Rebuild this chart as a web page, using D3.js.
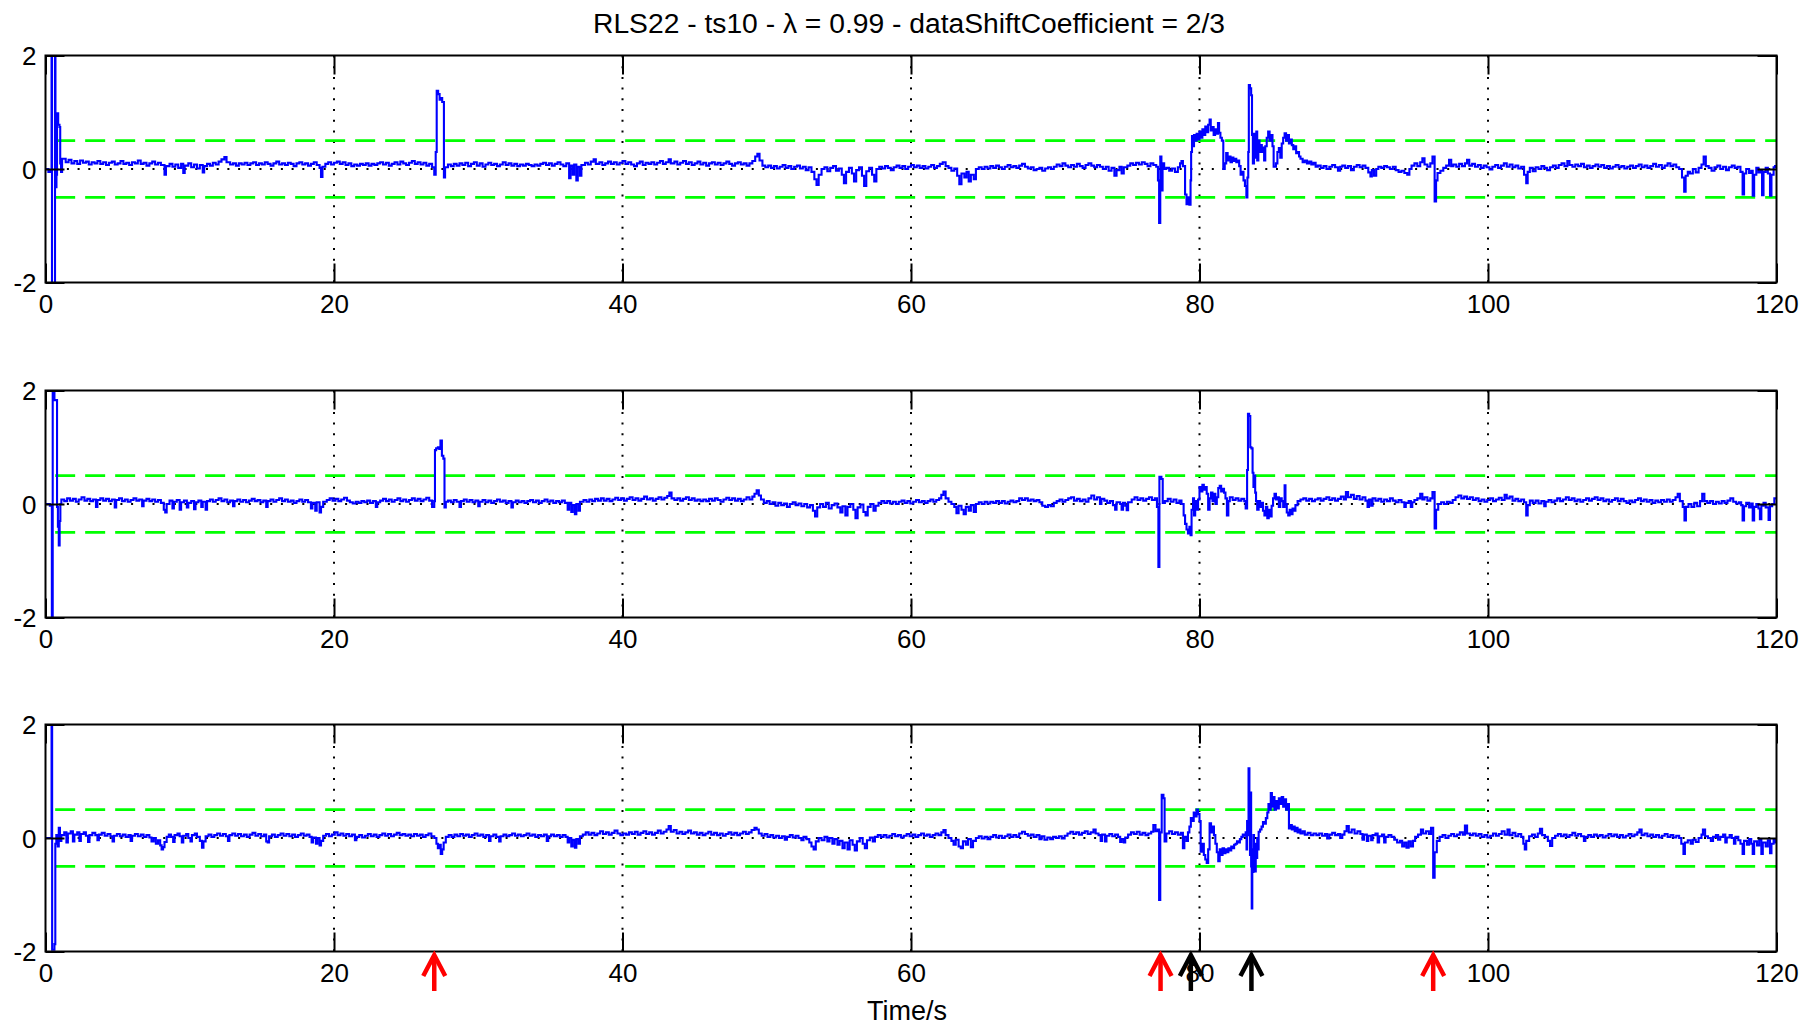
<!DOCTYPE html>
<html>
<head>
<meta charset="utf-8">
<script src="https://cdn.jsdelivr.net/npm/d3@7"></script>
<style>
html,body{margin:0;padding:0;background:#fff;}
svg{display:block;}
</style>
</head>
<body>
<svg id="chart" width="1811" height="1025"></svg>
<script>
// ---------------- DATA ----------------
const titleText = "RLS22 - ts10 - \u03BB = 0.99 - dataShiftCoefficient = 2/3";
const xLabel = "Time/s";
const xDomain = [0, 120];
const yDomain = [-2, 2];
const xTicks = [0, 20, 40, 60, 80, 100, 120];
const yTicks = [-2, 0, 2];
const yTickLabels = ["-2", "0", "2"];
const gridX = [20, 40, 60, 80, 100];
const gridY = [0];
const thresholds = [-0.5, 0.5];
const thresholdStart = 0.67;
const arrowsRed = [26.95, 77.3, 96.2];
const arrowsBlack = [79.4, 83.6];

// series: [time (s), value]
const series1 = [
[0,0],[0.2,-0.05],[0.35,-0.02],[0.42,2.6],[0.45,-2.6],[0.63,-2.6],[0.66,2.6],[0.69,-0.32],[0.76,-0.1],[0.8,0.98],[0.88,0.78],[0.97,0.74],[1.02,0.1],[1.08,-0.05],[1.15,0.18],
[1.4,.12],[1.6,.16],[1.8,.1],[2.0,.14],[2.2,.09],[2.4,.15],[2.6,.11],[2.8,.13],[3.0,.08],[3.2,.12],[3.4,.1],[3.6,.14],[3.8,.09],[4.0,.12],[4.2,.07],[4.4,.11],[4.6,.13],[4.8,.08],[5.0,.1],[5.2,.14],[5.4,.09],[5.6,.11],[5.8,.07],[6.0,.12],[6.2,.1],[6.4,.15],[6.6,.09],[6.8,.11],[7.0,.06],[7.2,.1],[7.4,.13],[7.6,.08],[7.8,.11],[8.0,.07],[8.25,-.1],[8.35,.05],[8.6,.09],[8.8,.04],[9.0,.08],[9.2,.02],[9.4,.09],[9.55,-.07],[9.65,.06],[9.9,.1],[10.1,.03],[10.3,.08],[10.5,.01],[10.7,.07],[10.9,-.06],[11.0,.05],[11.2,.09],[11.4,.06],[11.6,.11],[11.8,.08],[12.0,.13],[12.2,.17],[12.4,.21],[12.55,.12],[12.8,.08],[13.0,.1],[13.2,.06],[13.4,.1],[13.6,.08],[13.8,.11],[14.0,.07],[14.2,.1],[14.4,.12],[14.6,.07],[14.8,.1],[15.0,.08],[15.2,.12],[15.4,.09],[15.6,.06],[15.8,.1],[16.0,.13],[16.2,.08],[16.4,.1],[16.6,.07],[16.8,.11],[17.0,.09],[17.2,.05],[17.4,.1],[17.6,.12],[17.8,.08],[18.0,.1],[18.2,.06],[18.4,.09],[18.6,.12],[18.8,.07],[19.0,.02],[19.1,-.14],[19.2,.04],[19.4,.09],[19.6,.12],[19.8,.08],[20.0,.11],[20.2,.13],[20.4,.09],[20.6,.12],[20.8,.07],[21.0,.1],[21.2,.05],[21.4,.08],[21.6,.06],[21.8,.09],[22.0,.07],[22.2,.1],[22.4,.06],[22.6,.09],[22.8,.07],[23.0,.1],[23.2,.12],[23.4,.08],[23.6,.11],[23.8,.06],[24.0,.09],[24.2,.12],[24.4,.08],[24.6,.13],[24.8,.1],[25.0,.07],[25.2,.11],[25.4,.14],[25.6,.09],[25.8,.12],[26.0,.08],[26.2,.11],[26.4,.06],[26.6,.09],[26.8,.03],[26.95,-.1],
[27.05,.3],[27.12,1.38],[27.22,1.32],[27.32,1.22],[27.4,1.25],[27.5,1.18],[27.62,-.15],[27.7,.03],[27.9,.08],
[28.1,.05],[28.3,.09],[28.5,.06],[28.7,.1],[28.9,.07],[29.1,.11],[29.3,.05],[29.5,.09],[29.7,.12],[29.9,.06],[30.1,.1],[30.3,.04],[30.5,.08],[30.7,.11],[30.9,.07],[31.1,.09],[31.3,.05],[31.5,.08],[31.7,.12],[31.9,.07],[32.1,.1],[32.3,.06],[32.5,.09],[32.7,.05],[32.9,.08],[33.1,.06],[33.3,.09],[33.5,.07],[33.7,.05],[33.9,.08],[34.1,.06],[34.3,.09],[34.5,.11],[34.7,.07],[34.9,.1],[35.1,.06],[35.3,.09],[35.5,.12],[35.7,.08],[35.9,.05],[36.1,.1],[36.3,-.16],[36.4,.06],[36.55,-.1],[36.65,.08],[36.8,-.2],[36.9,.04],[37.05,-.12],[37.15,.07],[37.4,.11],[37.6,.08],[37.8,.13],[38.0,.17],[38.15,.09],[38.4,.12],[38.6,.07],[38.8,.1],[39.0,.13],[39.2,.09],[39.4,.12],[39.6,.08],[39.8,.11],[40.0,.14],[40.2,.09],[40.4,.12],[40.6,.08],[40.8,.05],[41.0,.1],[41.2,.13],[41.4,.07],[41.6,.11],[41.8,.09],[42.0,.12],[42.2,.08],[42.4,.11],[42.6,.14],[42.8,.09],[43.0,.12],[43.2,.17],[43.35,.1],[43.6,.13],[43.8,.08],[44.0,.11],[44.2,.14],[44.4,.09],[44.6,.12],[44.8,.07],[45.0,.1],[45.2,.13],[45.4,.08],[45.6,.11],[45.8,.06],[46.0,.1],[46.2,.12],[46.4,.08],[46.6,.11],[46.8,.07],[47.0,.1],[47.2,.13],[47.4,.09],[47.6,.06],[47.8,.1],[48.0,.12],[48.2,.08],
[48.4,.1],[48.6,.06],[48.8,.1],[49.0,.14],[49.2,.22],[49.35,.27],[49.5,.15],[49.7,.06],[49.9,.03],[50.1,.06],[50.3,.02],[50.5,.05],[50.7,.01],[50.9,.04],[51.1,.07],[51.3,.02],[51.5,.05],[51.7,.0],[51.9,.04],[52.1,.06],[52.3,.01],[52.5,.04],[52.7,-.02],[52.9,.03],[53.1,-.05],[53.3,-.18],[53.45,-.28],[53.6,-.1],[53.8,.0],[54.0,.03],[54.2,-.04],[54.4,.02],[54.6,.05],[54.8,-.03],[55.0,.01],[55.2,-.1],[55.35,-.25],[55.5,-.05],[55.7,.02],[55.9,-.08],[56.05,-.22],[56.2,-.02],[56.4,.03],[56.6,-.12],[56.75,-.3],[56.9,-.04],[57.1,.02],[57.3,-.1],[57.45,-.22],[57.6,.0],[57.8,.04],[58.0,.01],[58.2,.05],[58.4,.02],[58.6,-.02],[58.8,.03],[59.0,.06],[59.2,.02],[59.4,.05],[59.6,.0],[59.8,.04],[60.0,.07],[60.2,.03],[60.4,.06],[60.6,.02],[60.8,.05],[61.0,.01],[61.2,.04],[61.4,.07],[61.6,.02],[61.8,.05],[62.0,.09],[62.2,.12],[62.4,.05],[62.6,.02],[62.8,-.03],[63.0,.01],[63.2,-.12],[63.35,-.27],[63.5,-.08],[63.7,-.15],[63.85,-.05],[64.0,-.22],[64.15,-.1],[64.35,-.18],[64.5,.0],[64.7,.03],[64.9,.0],[65.1,.04],[65.3,.01],[65.5,.05],[65.7,.02],[65.9,.06],[66.1,.03],[66.3,.0],[66.5,.04],[66.7,.07],[66.9,.03],
[67.1,.05],[67.3,.02],[67.5,.06],[67.7,.09],[67.9,.04],[68.1,.01],[68.3,.03],[68.5,-.02],[68.7,.0],[68.9,.02],[69.1,-.03],[69.3,.01],[69.5,.03],[69.7,.0],[69.9,.04],[70.1,.08],[70.3,.05],[70.5,.1],[70.7,.06],[70.9,.03],[71.1,.07],[71.3,.04],[71.5,.09],[71.7,.05],[71.9,.02],[72.1,.07],[72.3,.1],[72.5,.06],[72.7,.03],[72.9,.07],[73.1,.04],[73.3,.0],[73.5,.04],[73.7,-.03],[73.9,.02],[74.1,-.12],[74.25,-.02],[74.45,.04],[74.6,-.08],[74.75,.03],[75.0,.06],[75.2,.1],[75.4,.07],[75.6,.11],[75.8,.08],[76.0,.12],[76.2,.09],[76.4,.05],[76.6,.1],[76.8,.07],[77.0,.04],
[77.12,-.2],[77.2,-.95],[77.28,.22],[77.36,-.38],[77.44,.1],[77.55,.0],[77.7,.02],[77.9,-.03],[78.1,.01],[78.3,-.05],[78.5,.03],[78.65,.1],[78.75,.14],[78.85,.05],
[79.0,-.45],[79.1,-.62],[79.2,-.5],[79.3,-.63],[79.38,-.2],[79.42,.3],[79.48,.58],[79.55,.4],[79.62,.6],
[79.7,.5],[79.8,.62],[79.9,.52],[80.0,.66],[80.1,.55],[80.2,.7],[80.3,.6],[80.4,.75],[80.5,.65],[80.6,.78],[80.7,.87],[80.78,.68],[80.88,.74],[80.98,.6],[81.08,.7],[81.18,.62],[81.28,.81],[81.36,.64],[81.45,.55],[81.55,.5],
[81.65,.0],[81.75,.1],[81.85,.28],[81.95,.15],[82.05,.22],[82.15,.12],[82.25,.2],[82.35,.14],[82.45,.18],[82.55,.12],[82.65,.15],
[82.75,.05],[82.85,-.1],[82.95,-.05],[83.05,-.2],[83.15,-.3],[83.25,-.5],[83.32,-.15],
[83.38,.3],[83.42,1.48],[83.5,1.42],[83.58,1.3],[83.64,.6],
[83.7,.1],[83.78,.62],[83.86,.2],[83.94,.66],[84.0,.15],[84.08,.5],[84.16,.3],[84.24,.42],[84.32,.3],[84.4,.38],[84.48,.15],[84.56,.4],[84.66,.55],[84.76,.66],[84.86,.5],[84.96,.6],[85.06,.4],[85.14,.04],[85.3,.1],[85.4,.3],[85.5,.37],[85.6,.2],[85.7,.45],[85.8,.55],[85.9,.63],[86.0,.5],[86.1,.6],[86.2,.45],[86.3,.52],[86.4,.42],[86.5,.35],[86.6,.4],[86.7,.28],[86.8,.3],[86.9,.22],[87.0,.18],[87.15,.12],[87.3,.15],[87.45,.1],[87.6,.13],[87.75,.08],[87.9,.11],[88.05,.04],
[88.2,.06],[88.4,.02],[88.6,.05],[88.8,.0],[89.0,.04],[89.2,.07],[89.4,.03],[89.6,-.03],[89.75,.04],[89.9,.06],[90.1,.02],[90.3,.05],[90.5,-.02],[90.7,.04],[90.9,.07],[91.1,.03],[91.3,.06],[91.5,.02],[91.7,-.06],[91.85,-.13],[91.95,-.02],[92.1,-.12],[92.25,.0],[92.4,.04],[92.6,.02],[92.8,.05],[93.0,.03],[93.2,.0],[93.4,.04],[93.6,-.02],[93.8,-.05],[94.0,-.03],[94.2,-.07],[94.4,-.1],[94.55,.0],[94.7,.06],[94.9,.1],[95.1,.05],[95.3,.12],[95.45,.19],[95.6,.08],[95.8,.04],[96.0,.1],[96.15,.22],[96.3,-.57],[96.4,-.2],[96.5,-.07],[96.7,-.03],[96.9,.02],[97.1,.06],[97.3,.16],[97.45,.05],[97.6,.08],[97.8,.04],[98.0,.09],[98.2,.05],[98.4,.1],[98.55,.16],[98.7,.06],[98.9,.09],[99.1,.04],[99.3,.07],[99.5,.02],[99.7,.06],[99.9,.03],[100.1,-.01],[100.3,.04],[100.5,.07],[100.7,.02],[100.9,.06],[101.1,.1],[101.3,.04],[101.5,.08],[101.7,.03],[101.9,.06],[102.1,.01],[102.3,.04],[102.5,-.1],[102.65,-.25],[102.75,-.05],[102.9,.02],[103.1,-.04],[103.3,.03],[103.5,.0],[103.7,.05],[103.9,.02],[104.1,-.02],[104.3,.03],[104.5,.06],[104.7,.02],[104.9,.07],[105.1,.1],[105.3,.05],[105.5,.14],[105.65,.07],[105.85,.04],[106.05,.08],[106.25,.05],[106.45,.09],[106.65,.03],[106.85,.06],[107.05,.02],[107.25,.05],[107.45,.08],[107.65,.04],[107.85,.07],[108.05,.02],[108.25,.05],[108.45,.01],[108.65,.04],[108.85,.07],[109.05,.03],[109.25,.05],[109.45,.01],[109.65,.04],[109.85,.06],[110.05,.02],[110.25,.05],[110.45,.08],[110.65,.03],[110.85,.06],[111.05,.02],[111.25,.05],[111.45,.09],[111.65,.04],[111.85,.07],[112.05,.02],[112.25,.06],[112.45,.1],[112.65,.05],[112.85,.08],[113.05,.03],[113.25,.0],[113.45,-.15],[113.6,-.4],[113.7,-.12],[113.85,-.05],[114.0,-.08],[114.2,.0],[114.4,-.06],[114.6,.02],[114.8,.08],[114.95,.22],[115.1,.05],[115.3,.02],[115.5,-.03],[115.7,.03],[115.9,.06],[116.1,.0],[116.3,.04],[116.5,-.02],[116.7,.03],[116.9,.06],[117.1,.02],[117.3,.04],[117.5,-.05],[117.65,-.45],[117.75,-.08],[117.9,.0],[118.1,-.07],[118.25,-.03],[118.35,-.47],[118.45,-.1],[118.6,.02],[118.75,-.06],[118.9,-.02],[119.0,-.46],[119.1,-.05],[119.25,.02],[119.4,-.08],[119.55,-.47],[119.65,-.1],[119.8,.03],[119.9,.05],[120,.04]
];

const series2 = [
[0,0],[0.3,-0.03],[0.44,-2.6],[0.5,1.98],[0.62,1.83],[0.8,-0.05],[0.86,-0.4],[0.92,-0.73],[0.98,-0.3],[1.03,0.0],
[1.1,.08],[1.3,.05],[1.5,.1],[1.7,.06],[1.9,.09],[2.1,.04],[2.3,.08],[2.5,.12],[2.7,.06],[2.9,.09],[3.1,.05],[3.3,.08],[3.5,-.05],[3.6,.07],[3.8,.1],[4.0,.06],[4.2,.09],[4.4,.05],[4.6,.08],[4.8,-.06],[4.9,.07],[5.1,.1],[5.3,.05],[5.5,.08],[5.7,.04],[5.9,.07],[6.1,.1],[6.3,.06],[6.5,.08],[6.7,-.04],[6.8,.06],[7.0,.09],[7.2,.05],[7.4,.08],[7.6,.04],[7.8,.07],[8.0,.02],[8.2,-.1],[8.3,-.15],[8.4,.0],[8.6,.06],[8.8,-.08],[8.9,.04],[9.1,.07],[9.3,-.1],[9.4,.03],[9.6,.06],[9.8,-.06],[9.9,.02],[10.1,.05],[10.3,-.09],[10.4,.03],[10.6,.06],[10.8,-.05],[10.9,.04],[11.1,-.1],[11.2,.05],[11.4,.08],[11.6,.04],[11.8,.07],[12.0,.1],[12.2,.05],[12.4,.08],[12.6,.03],[12.8,.06],[13.0,-.04],[13.1,.05],[13.3,.08],[13.5,.04],[13.7,.07],[13.9,.03],[14.1,.06],[14.3,.09],[14.5,.05],[14.7,.07],[14.9,.03],[15.1,.06],[15.3,-.05],[15.4,.05],[15.6,.08],[15.8,.04],[16.0,.07],[16.2,.1],[16.4,.05],[16.6,.08],[16.8,.04],[17.0,.06],[17.2,.02],[17.4,.05],[17.6,.08],[17.8,.04],[18.0,.07],[18.2,.03],[18.4,-.08],[18.5,.02],[18.7,-.12],[18.8,.03],[19.0,-.15],[19.1,-.05],[19.25,.04],[19.5,.07],[19.7,.1],[19.9,.06],[20.1,.09],[20.3,.05],[20.5,.08],[20.7,.11],[20.9,.06],[21.1,.03],[21.3,.01],[21.5,.04],[21.7,.02],[21.9,.05],[22.1,.03],[22.3,.06],[22.5,.02],[22.7,.05],[22.9,-.05],[23.0,.03],[23.2,.06],[23.4,.09],[23.6,.05],[23.8,.08],[24.0,.04],[24.2,.07],[24.4,.1],[24.6,.05],[24.8,.08],[25.0,.04],[25.2,.07],[25.4,.1],[25.6,.06],[25.8,.09],[26.0,.05],[26.2,.08],[26.4,.11],[26.6,.06],[26.8,-.05],[26.95,.05],
[27.0,.95],[27.08,.98],[27.2,1.0],[27.3,.97],[27.38,1.12],[27.48,.85],[27.58,.8],[27.66,-.06],[27.75,.04],
[27.9,.06],[28.1,.03],[28.3,.07],[28.5,.04],[28.7,-.05],[28.8,.05],[29.0,.08],[29.2,.04],[29.4,.07],[29.6,.03],[29.8,.06],[30.0,-.04],[30.1,.04],[30.3,.07],[30.5,.03],[30.7,.06],[30.9,.02],[31.1,.05],[31.3,.08],[31.5,.04],[31.7,.06],[31.9,.02],[32.1,.05],[32.3,-.06],[32.4,.03],[32.6,.06],[32.8,.03],[33.0,.05],[33.2,.02],[33.4,.05],[33.6,.07],[33.8,.03],[34.0,.06],[34.2,.02],[34.4,.05],[34.6,.08],[34.8,.04],[35.0,.06],[35.2,.02],[35.4,.05],[35.6,.03],[35.8,.06],[36.0,.02],[36.2,-.1],[36.3,.02],[36.45,-.14],[36.55,-.02],[36.7,-.18],[36.8,.0],[36.95,-.12],[37.05,.04],[37.3,.07],[37.5,.04],[37.7,.08],[37.9,.05],[38.1,.09],[38.3,.06],[38.5,.1],[38.7,.06],[38.9,.09],[39.1,.05],[39.3,.08],[39.5,.11],[39.7,.07],[39.9,.1],[40.1,.06],[40.3,.09],[40.5,.12],[40.7,.07],[40.9,.1],[41.1,.06],[41.3,.09],[41.5,.13],[41.7,.08],[41.9,.1],[42.1,.06],[42.3,.09],[42.5,.12],[42.7,.08],[42.9,.11],[43.1,.14],[43.25,.2],[43.4,.1],[43.6,.07],[43.8,.1],[44.0,.06],[44.2,.09],[44.4,.12],[44.6,.07],[44.8,.1],[45.0,.06],[45.2,.08],[45.4,.05],
[45.6,.08],[45.8,.05],[46.0,.09],[46.2,.06],[46.4,.1],[46.6,.07],[46.8,.04],[47.0,.08],[47.2,.11],[47.4,.07],[47.6,.1],[47.8,.06],[48.0,.09],[48.2,.05],[48.4,.08],[48.6,.12],[48.8,.08],[49.0,.13],[49.15,.18],[49.3,.24],[49.45,.15],[49.6,.08],[49.8,.02],[50.0,.05],[50.2,.0],[50.4,.03],[50.6,-.03],[50.8,.02],[51.0,-.02],[51.2,.01],[51.4,-.05],[51.6,.0],[51.8,.03],[52.0,-.02],[52.2,.01],[52.4,-.04],[52.6,.0],[52.8,-.06],[53.0,-.02],[53.2,-.12],[53.35,-.22],[53.5,-.06],[53.7,.0],[53.9,-.05],[54.1,.02],[54.3,-.08],[54.5,-.02],[54.7,.01],[54.9,-.06],[55.1,-.15],[55.25,-.04],[55.45,-.2],[55.6,-.05],[55.8,.0],[56.0,-.1],[56.15,-.25],[56.3,-.06],[56.5,-.01],[56.7,-.14],[56.85,-.2],[57.0,-.05],[57.2,.0],[57.4,-.12],[57.55,-.03],[57.75,.02],[57.95,.05],[58.15,.02],[58.35,.05],[58.55,.01],[58.75,.04],[58.95,.0],[59.15,.04],[59.35,.06],[59.55,.02],[59.75,.05],[59.95,.01],[60.15,.04],[60.35,.07],[60.55,.03],[60.75,.05],[60.95,.02],[61.15,.05],[61.35,.08],[61.55,.04],[61.75,.07],[61.95,.1],[62.1,.16],[62.25,.22],[62.4,.1],[62.6,.04],[62.8,.0],[63.0,-.05],[63.15,-.16],[63.3,-.03],[63.5,-.1],[63.65,-.18],[63.8,-.05],[64.0,-.12],[64.15,-.02],[64.35,-.14],[64.5,.0],[64.7,.03],[64.9,.0],[65.1,.04],[65.3,.01],[65.5,.04],[65.7,.02],[65.9,.05],[66.1,.02],[66.3,.05],[66.5,.01],[66.7,.04],[66.9,.06],[67.1,.03],[67.3,.05],
[67.5,.1],[67.7,.07],[67.9,.1],[68.1,.06],[68.3,.08],[68.5,.05],[68.7,.07],[68.9,.03],[69.1,-.03],[69.3,-.05],[69.5,-.02],[69.7,-.04],[69.9,.02],[70.1,.05],[70.3,.08],[70.5,.04],[70.7,.07],[70.9,.1],[71.1,.12],[71.3,.06],[71.5,.09],[71.7,.05],[71.9,.08],[72.1,.04],[72.3,.1],[72.5,.15],[72.7,.08],[72.9,.12],[73.1,.0],[73.2,.09],[73.4,.06],[73.6,.02],[73.8,.05],[74.0,-.02],[74.15,-.1],[74.25,.03],[74.5,.0],[74.6,-.1],[74.7,.02],[74.85,-.03],[74.95,-.11],[75.05,.03],[75.3,.08],[75.5,.12],[75.7,.07],[75.9,.1],[76.1,.06],[76.3,.09],[76.5,.12],[76.7,.07],[76.9,.1],
[77.05,-.05],[77.15,-1.11],[77.22,.48],[77.36,.44],[77.45,.02],[77.6,.05],[77.8,.09],[78.0,.04],[78.2,.08],[78.4,.02],[78.6,.06],[78.75,.0],
[78.9,-.2],[79.0,-.35],[79.1,-.45],[79.2,-.52],[79.3,-.4],[79.38,-.55],[79.45,-.1],[79.55,.1],[79.62,-.2],[79.7,.05],[79.8,-.1],[79.9,.08],
[80.0,.3],[80.1,.22],[80.2,.34],[80.3,.25],[80.4,.3],[80.5,.18],[80.6,-.1],[80.7,.1],[80.8,.2],[80.9,.05],[81.0,.18],[81.1,.0],[81.2,.12],[81.3,.28],[81.4,.32],[81.5,.22],[81.6,.27],[81.7,.2],[81.8,.1],[81.9,-.2],[82.0,.05],[82.1,.12],[82.3,.07],[82.5,.1],[82.7,.06],[82.9,.09],[83.1,.05],[83.2,-.08],
[83.3,.6],[83.36,1.59],[83.44,1.55],[83.52,1.0],[83.6,.98],[83.68,.55],[83.74,.3],[83.8,.5],[83.86,.2],
[83.92,.05],[84.0,-.1],[84.1,.05],[84.2,-.05],[84.3,.02],[84.4,-.12],[84.5,-.2],[84.6,-.05],[84.7,-.25],[84.8,-.1],[84.9,-.22],[85.0,-.03],[85.1,.1],[85.2,.18],[85.3,.08],[85.4,.12],[85.5,-.05],[85.6,.1],[85.7,.05],[85.8,-.05],[85.9,.33],[85.96,.0],[86.05,-.15],[86.15,-.2],[86.25,-.1],[86.35,-.18],[86.45,-.08],[86.55,-.12],[86.65,-.02],[86.8,.05],[87.0,.08],[87.2,.1],[87.4,.06],[87.6,.09],[87.8,.05],[88.0,.08],
[88.2,.1],[88.4,.06],[88.6,.09],[88.8,.12],[89.0,.07],[89.2,.1],[89.4,.06],[89.6,.09],[89.8,.13],[90.0,.08],[90.15,.21],[90.3,.12],[90.5,.16],[90.7,.09],[90.9,.14],[91.1,.08],[91.3,.12],[91.5,.06],[91.65,-.05],[91.75,.08],[91.9,-.03],[92.0,.1],[92.2,.06],[92.4,.09],[92.6,.04],[92.8,.08],[93.0,.05],[93.2,.1],[93.4,.06],[93.6,.03],[93.8,.07],[94.0,.03],[94.2,-.05],[94.3,.02],[94.5,.05],[94.65,-.05],[94.75,.03],[94.9,.07],[95.1,.1],[95.3,.18],[95.45,.08],[95.6,.12],[95.8,.06],[96.0,.1],[96.15,.21],[96.3,-.43],[96.4,-.1],[96.55,.0],[96.75,.03],[96.95,.0],[97.15,.04],[97.35,.02],[97.55,.07],[97.75,.12],[97.95,.15],[98.15,.1],[98.35,.13],[98.55,.09],[98.75,.12],[98.95,.07],[99.15,.1],[99.35,.05],[99.55,.08],[99.75,.04],[99.95,.07],[100.15,.1],[100.35,.05],[100.55,.08],[100.75,.11],[100.95,.07],[101.15,.16],[101.3,.1],[101.5,.13],[101.7,.06],[101.9,.09],[102.1,.05],[102.3,.08],[102.5,.03],[102.65,-.2],[102.75,-.02],[102.9,.06],[103.1,.02],[103.3,.06],[103.5,.01],[103.7,.05],[103.9,-.04],[104.0,.04],[104.2,.07],[104.4,.03],[104.6,.06],[104.8,.1],[105.0,.05],[105.2,.08],[105.4,.12],[105.6,.07],[105.8,.1],[106.0,.05],[106.2,.08],[106.4,.04],[106.6,.07],[106.8,.1],[107.0,.06],[107.2,.09],[107.4,.12],[107.6,.07],[107.8,.1],[108.0,.05],[108.2,.08],[108.4,.04],[108.6,.07],[108.8,.1],[109.0,.05],[109.2,.09],[109.4,.05],[109.6,.02],[109.8,.06],[110.0,.03],[110.2,.07],[110.4,.1],[110.6,.05],[110.8,.08],[111.0,.04],[111.2,.07],[111.4,.02],[111.6,.06],[111.8,.03],[112.0,.07],[112.2,.04],[112.4,.08],[112.6,.04],[112.8,.07],[113.0,.12],[113.15,.18],[113.3,.05],[113.5,-.05],[113.62,-.29],[113.72,-.05],[113.9,.0],[114.1,-.05],[114.3,.02],[114.5,-.04],[114.7,.05],[114.85,.18],[115.0,.05],[115.2,.02],[115.4,.05],[115.6,.0],[115.8,.04],[116.0,.01],[116.2,.05],[116.4,.02],[116.6,.06],[116.8,.1],[117.0,.04],[117.2,.01],[117.4,.03],[117.55,-.02],[117.65,-.29],[117.75,-.04],[117.9,.02],[118.1,-.06],[118.25,.01],[118.35,-.29],[118.45,-.05],[118.6,.0],[118.75,-.08],[118.85,-.27],[118.95,-.03],[119.1,.02],[119.25,-.06],[119.45,-.28],[119.55,-.04],[119.7,.0],[119.85,.1],[120,.08]
];

const series3 = [
[0,0],[0.3,0.0],[0.42,2.6],[0.46,-1.97],[0.62,-1.87],[0.68,-0.1],[0.75,0.05],[0.85,-0.15],[0.92,0.18],[1.0,-0.05],
[1.1,.05],[1.3,.1],[1.45,-.08],[1.55,.08],[1.75,.12],[1.9,-.06],[2.0,.06],[2.2,.1],[2.35,-.05],[2.45,.07],[2.65,.1],[2.8,.04],[2.95,-.07],[3.05,.05],[3.25,.09],[3.45,.05],[3.6,-.04],[3.7,.06],[3.9,.09],[4.1,.04],[4.3,.07],[4.5,.03],[4.65,-.06],[4.75,.04],[4.95,.07],[5.15,.03],[5.35,.06],[5.55,.02],[5.75,.05],[5.9,-.05],[6.0,.04],[6.2,.07],[6.4,.03],[6.6,.06],[6.8,.02],[7.0,.05],[7.2,.01],[7.35,-.06],[7.5,.0],[7.65,-.1],[7.8,-.04],[7.95,-.13],[8.05,-.2],[8.15,-.16],[8.25,-.07],[8.4,.02],[8.55,.06],[8.7,.02],[8.85,-.07],[8.95,.05],[9.15,.08],[9.3,.03],[9.45,-.08],[9.55,.04],[9.75,.07],[9.9,.0],[10.05,-.06],[10.15,.05],[10.35,.08],[10.5,.02],[10.7,-.05],[10.85,-.17],[10.95,-.06],[11.1,.03],[11.3,.06],[11.5,.02],[11.7,.05],[11.9,.08],[12.1,.04],[12.3,.07],[12.5,.03],[12.65,-.05],[12.75,.05],[12.95,.08],[13.15,.04],[13.35,.07],[13.55,.03],[13.75,.06],[13.95,.02],[14.15,.06],[14.35,.09],[14.55,.04],[14.75,.07],[14.95,.03],[15.15,.06],[15.3,-.06],[15.4,-.08],[15.5,.03],[15.7,.06],[15.9,.02],[16.1,.05],[16.3,.08],[16.5,.04],[16.7,.07],[16.9,.03],[17.1,.06],[17.3,.02],[17.5,.05],[17.7,.08],[17.9,.04],[18.1,.06],[18.3,.02],[18.45,-.08],[18.55,.01],[18.75,-.1],[18.85,.0],[19.0,-.13],[19.1,-.05],[19.25,.04],[19.45,.07],[19.65,.03],[19.85,.06],[20.05,.1],[20.25,.05],[20.45,.08],[20.65,.04],[20.85,.07],[21.05,.03],[21.25,.06],[21.45,-.04],[21.55,.02],[21.75,.05],[21.95,.01],[22.15,.04],[22.35,.07],[22.55,.03],[22.75,.06],[22.95,.02],[23.15,.05],[23.35,.08],[23.55,.04],[23.75,.07],[23.95,.03],[24.15,.06],[24.35,.09],[24.55,.05],[24.75,.07],[24.95,.04],[25.15,.06],[25.35,.03],[25.55,.07],[25.75,.04],[25.95,.06],[26.15,.02],[26.35,.05],[26.55,.08],[26.75,.03],[26.95,.0],[27.1,-.1],[27.2,-.18],[27.3,-.12],[27.4,-.28],[27.5,-.2],[27.6,-.08],[27.75,.02],[27.95,.05],[28.15,.02],[28.35,.06],[28.55,.03],[28.75,.07],[28.95,.04],[29.15,.06],[29.35,.02],[29.55,.05],[29.75,.08],[29.95,.04],[30.15,.06],[30.35,.02],[30.55,.05],[30.75,-.05],[30.85,.03],[31.05,.06],[31.25,.02],[31.45,-.06],[31.55,.03],[31.75,.06],[31.95,.03],[32.15,.05],[32.35,.08],[32.55,.04],[32.75,.06],[32.95,.03],[33.15,.05],[33.35,.08],[33.55,.04],[33.75,.06],[33.95,.02],[34.15,.05],[34.35,.03],[34.55,.06],[34.75,-.05],[34.85,.03],[35.05,.06],[35.25,.03],[35.45,.05],[35.65,.02],[35.85,.05],[36.05,.02],[36.2,-.08],[36.3,.0],[36.45,-.15],[36.55,-.03],[36.7,-.17],[36.8,-.02],[36.95,-.1],[37.05,.03],[37.25,.06],[37.45,.1],[37.65,.06],[37.85,.09],[38.05,.05],[38.25,.08],[38.45,.12],[38.65,.07],[38.85,.1],[39.05,.06],[39.25,.09],[39.45,.13],[39.65,.08],[39.85,.05],[40.05,.08],[40.25,.06],[40.45,.1],[40.65,.07],[40.85,.11],[41.05,.06],[41.25,.09],[41.45,.12],[41.65,.07],[41.85,.1],[42.05,.06],[42.25,.09],[42.45,.13],[42.65,.08],[42.85,.11],[43.05,.15],[43.2,.21],[43.35,.11],[43.55,.14],[43.75,.08],[43.95,.11],[44.15,.07],[44.35,.1],[44.55,.13],[44.75,.08],[44.95,.1],[45.15,.06],
[45.35,.09],[45.55,.05],[45.75,.08],[45.95,.11],[46.15,.06],[46.35,.09],[46.55,.05],[46.75,.08],[46.95,.04],[47.15,.07],[47.35,.1],[47.55,.06],[47.75,.09],[47.95,.05],[48.15,.08],[48.35,.11],[48.55,.07],[48.75,.1],[48.95,.14],[49.15,.18],[49.3,.15],[49.45,.08],[49.65,.04],[49.85,.07],[50.05,.02],[50.25,.05],[50.45,.01],[50.65,.04],[50.85,.0],[51.05,.03],[51.25,-.03],[51.4,.02],[51.6,.05],[51.8,.01],[52.0,.04],[52.2,.0],[52.4,-.04],[52.55,.02],[52.75,-.02],[52.95,-.08],[53.1,-.15],[53.25,-.2],[53.4,-.06],[53.6,.0],[53.8,-.04],[54.0,.02],[54.2,-.06],[54.35,.0],[54.55,-.1],[54.7,-.02],[54.9,-.12],[55.05,-.05],[55.25,-.18],[55.4,-.08],[55.6,-.2],[55.75,-.04],[55.95,-.12],[56.1,-.22],[56.25,-.06],[56.45,.0],[56.65,-.1],[56.8,-.18],[56.95,-.04],[57.15,.01],[57.35,-.06],[57.5,.02],[57.7,.05],[57.9,.02],[58.1,.05],[58.3,.01],[58.5,.04],[58.7,.07],[58.9,.03],[59.1,.05],[59.3,.01],[59.5,.04],[59.7,.07],[59.9,.03],[60.1,.06],[60.3,.02],[60.5,.05],[60.7,.08],[60.9,.04],[61.1,.06],[61.3,.02],[61.5,.05],[61.7,.08],[61.9,.05],[62.1,.1],[62.25,.14],[62.4,.05],[62.6,.0],[62.8,-.05],[62.95,-.12],[63.1,-.03],[63.3,-.15],[63.45,-.18],[63.6,-.06],[63.8,-.12],[63.95,-.02],[64.15,-.16],[64.3,-.05],[64.5,.0],[64.7,.03],[64.9,-.01],[65.1,.02],[65.3,-.02],[65.5,.02],[65.7,.05],[65.9,.01],[66.1,.04],[66.3,.0],[66.5,.03],[66.7,.06],[66.9,.02],[67.1,.05],[67.3,.02],
[67.5,.08],[67.7,.11],[67.9,.07],[68.1,.04],[68.3,.06],[68.5,.02],[68.7,.05],[68.9,-.02],[69.05,.03],[69.25,-.03],[69.45,.01],[69.65,-.02],[69.85,.02],[70.05,.0],[70.25,.03],[70.45,-.01],[70.65,.04],[70.85,.08],[71.05,.11],[71.25,.07],[71.45,.1],[71.65,.06],[71.85,.09],[72.05,.12],[72.25,.07],[72.45,.1],[72.65,.15],[72.8,.08],[73.0,.05],[73.15,-.05],[73.25,.06],[73.45,-.06],[73.55,.04],[73.75,.07],[73.95,.03],[74.15,.06],[74.35,.02],[74.5,-.07],[74.6,-.02],[74.75,-.08],[74.85,.01],[75.05,.06],[75.25,.1],[75.45,.07],[75.65,.11],[75.85,.06],[76.05,.09],[76.25,.05],[76.45,.08],[76.65,.11],[76.8,.23],[76.95,.12],[77.1,.15],[77.2,-1.09],[77.28,.1],[77.38,.76],[77.5,.7],[77.58,-.06],[77.7,.08],[77.9,.12],[78.1,.07],[78.3,.1],[78.5,.06],[78.7,.09],[78.85,-.18],[78.95,.02],[79.1,-.05],[79.2,.1],[79.3,.2],[79.4,.35],[79.5,.3],[79.6,.45],[79.7,.38],[79.8,.5],[79.9,.42],[80.0,.3],[80.08,-.24],[80.2,-.1],[80.3,-.3],[80.4,-.38],[80.5,-.44],[80.6,-.2],[80.7,.26],[80.8,.1],[80.9,.2],[81.0,.05],[81.1,-.1],[81.2,-.25],[81.3,-.41],[81.4,-.2],[81.5,-.3],[81.6,-.18],[81.7,-.27],[81.8,-.2],[81.9,-.25],[82.0,-.18],[82.1,-.22],[82.2,-.15],[82.3,-.18],[82.4,-.12],[82.5,-.1],[82.6,-.06],[82.7,-.08],[82.8,-.02],[82.9,.02],[83.0,.06],[83.1,.04],[83.2,.1],[83.26,-.2],[83.3,.3],[83.36,.05],[83.4,1.23],[83.46,.6],[83.5,-.3],[83.54,.8],[83.58,-.5],[83.62,-1.24],[83.66,-.2],[83.7,-.6],[83.74,.05],[83.78,-.45],[83.82,-.1],[83.86,-.59],[83.9,-.12],[83.95,-.35],[84.0,.0],[84.05,-.2],[84.1,.11],[84.2,.15],[84.3,.2],[84.4,.28],[84.5,.25],[84.6,.35],[84.7,.45],[84.78,.6],[84.86,.5],[84.94,.79],[85.02,.55],[85.1,.72],[85.2,.5],[85.3,.65],[85.4,.52],[85.5,.7],[85.6,.6],[85.7,.72],[85.8,.55],[85.9,.68],[86.0,.5],[86.1,.6],[86.2,.17],[86.3,.23],[86.4,.15],[86.5,.2],[86.6,.12],[86.7,.18],[86.8,.1],[86.9,.15],[87.0,.08],[87.15,.12],[87.3,.06],[87.5,.09],[87.7,.05],[87.9,.08],
[88.1,.05],[88.3,.08],[88.5,.04],[88.7,.07],[88.85,-.01],[89.0,.06],[89.2,.09],[89.4,.05],[89.6,.07],[89.75,.0],[89.9,.06],[90.05,.12],[90.2,.21],[90.35,.1],[90.55,.15],[90.75,.08],[90.95,.12],[91.15,.07],[91.3,-.03],[91.4,.06],[91.6,-.05],[91.7,.04],[91.9,-.04],[92.0,.05],[92.2,.08],[92.35,-.08],[92.45,.03],[92.65,.06],[92.8,-.08],[92.9,.02],[93.1,.05],[93.3,.02],[93.5,-.03],[93.7,-.08],[93.9,-.05],[94.05,-.15],[94.2,-.08],[94.35,-.17],[94.5,-.06],[94.65,-.15],[94.8,-.05],[94.95,.02],[95.15,.06],[95.35,.15],[95.5,.08],[95.7,.12],[95.9,.07],[96.05,.18],[96.2,-.7],[96.3,-.25],[96.45,-.05],[96.65,.02],[96.85,.05],[97.05,.0],[97.25,.04],[97.45,.07],[97.65,.03],[97.85,.06],[98.05,.1],[98.25,.06],[98.4,.22],[98.55,.08],[98.75,.05],[98.95,.08],[99.15,.04],[99.35,.07],[99.55,.02],[99.75,.05],[99.95,.01],[100.15,.04],[100.35,.08],[100.55,.04],[100.75,.07],[100.95,.12],[101.15,.06],[101.35,.15],[101.5,.05],[101.7,.09],[101.9,.03],[102.1,.07],[102.3,.02],[102.45,-.1],[102.55,-.2],[102.65,-.05],[102.85,.03],[103.05,.06],[103.25,.02],[103.45,.08],[103.6,.16],[103.75,.05],[103.95,.02],[104.15,-.05],[104.3,-.14],[104.45,.0],[104.65,.04],[104.85,.07],[105.05,.03],[105.25,.06],[105.45,.02],[105.65,.05],[105.85,.09],[106.05,.04],[106.25,.07],[106.45,.03],[106.65,-.05],[106.75,.02],[106.95,.05],[107.15,.02],[107.35,.06],[107.55,.03],[107.75,.05],[107.95,.01],[108.15,.04],[108.35,.07],[108.55,.03],[108.75,.06],[108.95,.02],[109.15,.05],[109.35,.01],[109.55,.04],[109.75,.07],[109.95,.03],[110.15,.06],[110.35,.1],[110.5,.15],[110.65,.05],[110.85,.08],[111.05,.03],[111.25,.06],[111.45,.02],[111.65,.05],[111.85,.01],[112.05,.04],[112.25,.07],[112.45,.02],[112.65,.05],[112.85,.01],[113.05,.04],[113.25,.0],[113.4,-.1],[113.55,-.28],[113.65,-.08],[113.85,-.04],[114.05,-.1],[114.2,-.03],[114.4,-.07],[114.6,.0],[114.8,.06],[114.9,.15],[115.05,.03],[115.25,.0],[115.45,-.05],[115.6,.02],[115.8,.05],[115.95,-.03],[116.1,.02],[116.3,.06],[116.45,-.08],[116.55,.01],[116.75,.05],[116.9,.0],[117.05,-.1],[117.15,.02],[117.35,-.04],[117.5,-.1],[117.65,-.28],[117.75,-.05],[117.95,-.12],[118.1,-.02],[118.25,-.1],[118.35,-.28],[118.45,-.06],[118.65,-.13],[118.8,-.03],[118.95,-.28],[119.05,-.08],[119.25,-.15],[119.4,-.04],[119.55,-.27],[119.65,-.1],[119.8,-.03],[119.92,-.08],[120,-.05]
];

// ---------------- DRAWING ----------------
const FONT = "'Liberation Sans', Arial, Helvetica, sans-serif";
const svg = d3.select("#chart");
svg.append("rect").attr("width", 1811).attr("height", 1025).attr("fill", "#fff");

const plotLeft = 45.5, plotRight = 1776.5;
const panelTops = [55.5, 390.5, 724.5];
const panelH = 227;
const tickLen = 19;

const x = d3.scaleLinear().domain(xDomain).range([plotLeft, plotRight]);
const allSeries = [series1, series2, series3].map(s => s.slice().sort((a, b) => a[0] - b[0]));
const yFmt = d => yTickLabels[yTicks.indexOf(d)];
const xFmt = d => String(d);

allSeries.forEach((data, i) => {
  const top = panelTops[i];
  const y = d3.scaleLinear().domain(yDomain).range([top + panelH, top]);
  const g = svg.append("g");

  const clipId = "clip" + i;
  svg.append("clipPath").attr("id", clipId)
    .append("rect").attr("x", plotLeft).attr("y", top).attr("width", plotRight - plotLeft).attr("height", panelH);

  // grid (dotted)
  g.selectAll(".gx").data(gridX).join("line")
    .attr("x1", d => x(d)).attr("x2", d => x(d))
    .attr("y1", top).attr("y2", top + panelH)
    .attr("stroke", "#000").attr("stroke-width", 2).attr("stroke-dasharray", "2,8.7");
  g.selectAll(".gy").data(gridY).join("line")
    .attr("x1", plotLeft).attr("x2", plotRight)
    .attr("y1", d => y(d)).attr("y2", d => y(d))
    .attr("stroke", "#000").attr("stroke-width", 2).attr("stroke-dasharray", "2,8.7");

  // threshold lines (green dashed)
  g.selectAll(".th").data(thresholds).join("line")
    .attr("x1", x(thresholdStart)).attr("x2", plotRight)
    .attr("y1", d => y(d)).attr("y2", d => y(d))
    .attr("stroke", "#00ff00").attr("stroke-width", 2.6).attr("stroke-dasharray", "20,10");

  // signal
  const line = d3.line().x(d => x(d[0])).y(d => y(d[1])).curve(d3.curveStepAfter);
  g.append("path").datum(data)
    .attr("clip-path", `url(#${clipId})`)
    .attr("d", line).attr("fill", "none")
    .attr("stroke", "#0000ff").attr("stroke-width", 2.1).attr("stroke-linejoin", "miter");

  // axes
  const axB = g.append("g").attr("transform", `translate(0,${top + panelH})`)
    .call(d3.axisBottom(x).tickValues(xTicks).tickFormat(xFmt).tickSizeInner(-tickLen).tickSizeOuter(0).tickPadding(12));
  const axT = g.append("g").attr("transform", `translate(0,${top})`)
    .call(d3.axisTop(x).tickValues(xTicks).tickSizeInner(-tickLen).tickSizeOuter(0).tickFormat(""));
  const axL = g.append("g").attr("transform", `translate(${plotLeft},0)`)
    .call(d3.axisLeft(y).tickValues(yTicks).tickFormat(yFmt).tickSizeInner(-tickLen).tickSizeOuter(0).tickPadding(9));
  const axR = g.append("g").attr("transform", `translate(${plotRight},0)`)
    .call(d3.axisRight(y).tickValues(yTicks).tickSizeInner(-tickLen).tickSizeOuter(0).tickFormat(""));
  [axB, axT, axL, axR].forEach(a => {
    a.select(".domain").remove();
    a.selectAll(".tick line").attr("stroke", "#000").attr("stroke-width", 2);
    a.selectAll("text").attr("font-family", FONT).attr("font-size", 26).attr("fill", "#000");
  });
  axL.selectAll("text").attr("dy", "0.36em");

  // frame
  g.append("rect").attr("x", plotLeft).attr("y", top)
    .attr("width", plotRight - plotLeft).attr("height", panelH)
    .attr("fill", "none").attr("stroke", "#000").attr("stroke-width", 2);
});

// title
svg.append("text").attr("x", 909).attr("y", 33).attr("text-anchor", "middle")
  .attr("font-family", FONT).attr("font-size", 27).attr("fill", "#000")
  .attr("textLength", 632).attr("lengthAdjust", "spacingAndGlyphs")
  .text(titleText);

// x label
svg.append("text").attr("x", 907).attr("y", 1020).attr("text-anchor", "middle")
  .attr("font-family", FONT).attr("font-size", 27).attr("fill", "#000")
  .text(xLabel);

// arrows under bottom panel
const arrowTop = 955, arrowBottom = 991, headDrop = 21, headHalf = 11;
const arrowData = arrowsRed.map(t => ({t, c: "#ff0000"})).concat(arrowsBlack.map(t => ({t, c: "#000000"})));
const ag = svg.append("g");
arrowData.forEach(a => {
  const ax = x(a.t);
  ag.append("line").attr("x1", ax).attr("x2", ax).attr("y1", arrowTop + 2).attr("y2", arrowBottom)
    .attr("stroke", a.c).attr("stroke-width", 4.5);
  ag.append("path")
    .attr("d", `M${ax - headHalf},${arrowTop + headDrop} L${ax},${arrowTop} L${ax + headHalf},${arrowTop + headDrop}`)
    .attr("fill", "none").attr("stroke", a.c).attr("stroke-width", 4.5).attr("stroke-linejoin", "miter");
});
</script>
</body>
</html>
